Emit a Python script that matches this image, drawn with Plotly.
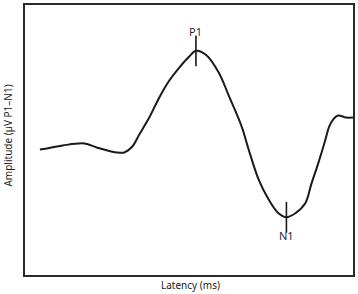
import plotly.graph_objects as go

# Waveform (arbitrary units)
latency = [15, 22, 38, 60, 72, 92, 100, 108, 115, 125, 135, 145, 155, 165, 172,
           182, 195, 205, 218, 225, 235, 245, 255, 263, 272, 282, 288, 295, 302,
           306, 310, 315, 323, 330]
amplitude = [126, 127, 130, 132, 128, 123, 123, 129, 141, 158, 178, 195, 208, 219, 225,
             221, 203, 180, 149, 126, 96, 76, 62, 58, 62, 72, 91, 112, 135,
             149, 156, 160, 158, 158]

peak_names = ["P1", "N1"]
peak_latency = [172, 263]
peak_amplitude = [225, 58]
label_shift = [19, -18]

fig = go.Figure()
fig.add_trace(go.Scatter(
    x=latency, y=amplitude, mode="lines",
    line=dict(color="#1a1a1a", width=2, shape="spline", smoothing=1.0),
    hoverinfo="skip", showlegend=False))
fig.add_trace(go.Scatter(
    x=peak_latency, y=peak_amplitude, mode="markers",
    marker=dict(symbol="line-ns-open", size=22, color="#1a1a1a",
                line=dict(color="#1a1a1a", width=1.6)),
    hoverinfo="skip", showlegend=False))

for name, lx, ly, sh in zip(peak_names, peak_latency, peak_amplitude, label_shift):
    fig.add_annotation(x=lx, y=ly, text=name, showarrow=False, yshift=sh,
                       font=dict(family="Noto Sans", size=11, color="#2a2a3a"))

fig.add_annotation(xref="paper", yref="paper", x=0.506, y=-0.037, text="Latency (ms)",
                   showarrow=False, xanchor="center", yanchor="middle",
                   font=dict(family="Noto Sans", size=10, color="#222"))
fig.add_annotation(xref="paper", yref="paper", x=-0.0515, y=0.517,
                   text="Amplitude (µV P1–N1)", textangle=-90,
                   showarrow=False, xanchor="center", yanchor="middle",
                   font=dict(family="Noto Sans", size=10, color="#222"))

axis_common = dict(showline=True, mirror=True, linewidth=2, linecolor="#2a2a2a",
                   showgrid=False, zeroline=False, showticklabels=False, ticks="")
fig.update_xaxes(range=[0, 330], **axis_common)
fig.update_yaxes(range=[0, 271], **axis_common)

fig.update_layout(width=358, height=294, margin=dict(l=25, r=3, t=4, b=19),
                  paper_bgcolor="white", plot_bgcolor="white")

fig.write_html("out.html")
